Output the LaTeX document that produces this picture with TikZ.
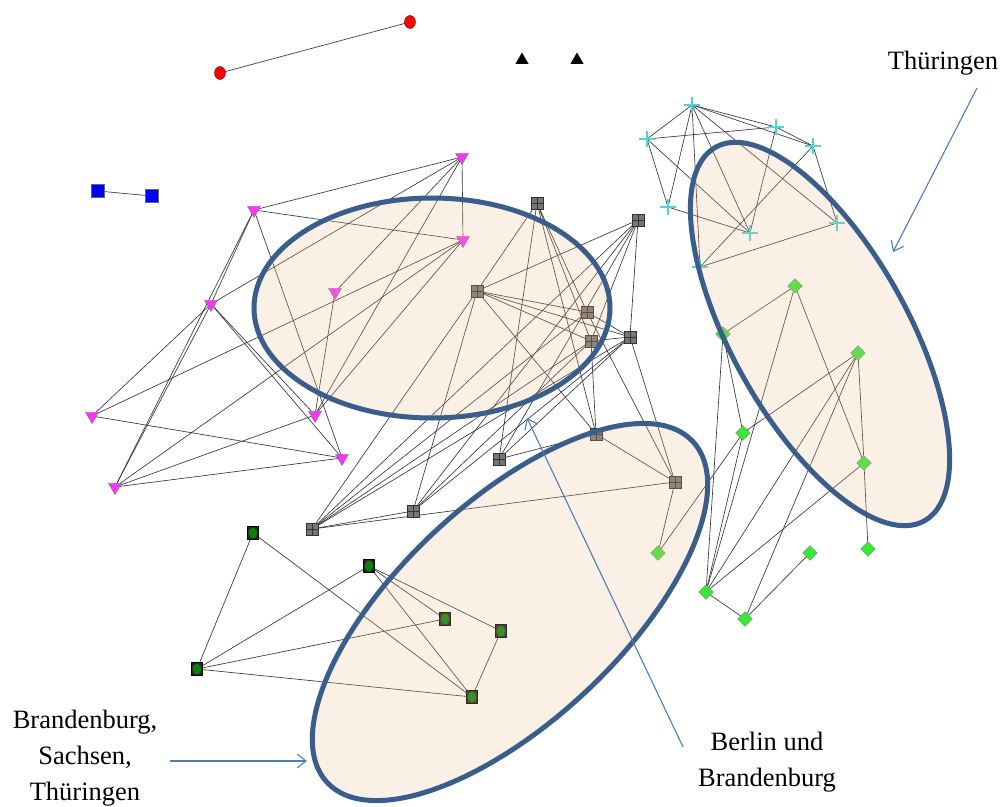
\documentclass[tikz,border=0pt]{standalone}
\usepackage{fontspec}
\setmainfont{Liberation Serif}
\usetikzlibrary{shapes.geometric,shapes.misc,arrows.meta}
\pgfdeclarelayer{bg}
\pgfdeclarelayer{fg}
\pgfsetlayers{bg,main,fg}
\definecolor{edgec}{RGB}{55,55,55}
\definecolor{ellc}{RGB}{58,94,140}
\definecolor{ellfill}{RGB}{241,187,141}
\definecolor{arrc}{RGB}{74,126,187}
\definecolor{magc}{RGB}{255,51,255}
\definecolor{grayc}{RGB}{118,118,118}
\definecolor{cyanc}{RGB}{80,210,215}
\definecolor{diac}{RGB}{55,232,55}
\definecolor{kgreen}{RGB}{10,130,10}
\tikzset{
  magnode/.style={regular polygon, regular polygon sides=3, shape border rotate=180,
    draw=black!55, line width=0.4pt, fill=magc, minimum size=15pt, inner sep=0pt},
  graynode/.style={rectangle, draw=black!80, line width=0.5pt, fill=grayc,
    minimum size=12pt, inner sep=0pt,
    path picture={\draw[black!80, line width=0.6pt]
      (path picture bounding box.north) -- (path picture bounding box.south)
      (path picture bounding box.west) -- (path picture bounding box.east);}},
  cyannode/.style={cross out, draw=cyanc, line width=1.2pt, minimum size=10pt,
    inner sep=0pt, rotate=45},
  dianode/.style={diamond, draw=black!50, line width=0.4pt, fill=diac,
    minimum size=15pt, inner sep=0pt},
  knode/.style={rectangle, draw=black, line width=0.9pt, fill=black!85,
    minimum width=11pt, minimum height=13pt, inner sep=0pt,
    path picture={\fill[kgreen] (path picture bounding box.center)
      ellipse [x radius=4.3pt, y radius=5.4pt];}},
  rednode/.style={ellipse, draw=red!45!black, line width=0.4pt, fill=red,
    minimum width=11pt, minimum height=13pt, inner sep=0pt},
  blknode/.style={regular polygon, regular polygon sides=3, fill=black,
    minimum size=15pt, inner sep=0pt},
  bluenode/.style={rectangle, draw=black!60, line width=0.4pt, fill=blue,
    minimum size=13pt, inner sep=0pt},
  edge/.style={draw=edgec, line width=0.65pt},
  ellshape/.style={draw=ellc, line width=5pt},
  ellfillst/.style={fill=ellfill, fill opacity=0.22},
  callout/.style={draw=arrc, line width=1.1pt, -{Straight Barb[length=9pt,width=14pt,line width=1.1pt]}},
  lbl/.style={font=\fontsize{26.5}{36}\selectfont, align=center, inner sep=0pt}
}
\begin{document}
\begin{tikzpicture}[x=1pt,y=-1pt]
\useasboundingbox (0,0) rectangle (1003,806);

% red
\node[rednode] (R1) at (220,73) {};
\node[rednode] (R2) at (410,22) {};
% black triangles
\node[blknode] (T1) at (522,60) {};
\node[blknode] (T2) at (577,60) {};
% blue
\node[bluenode] (B1) at (98,191) {};
\node[bluenode] (B2) at (152,196) {};
% magenta
\node[magnode] (M1) at (462,157) {};
\node[magnode] (M2) at (254,210) {};
\node[magnode] (M3) at (463,240) {};
\node[magnode] (M4) at (335,292) {};
\node[magnode] (M5) at (211,304) {};
\node[magnode] (M6) at (92,416) {};
\node[magnode] (M7) at (315,415) {};
\node[magnode] (M8) at (342,458) {};
\node[magnode] (M9) at (115,487) {};
% gray
\node[graynode] (G1) at (537,203) {};
\node[graynode] (G2) at (638,220) {};
\node[graynode] (G3) at (477,291) {};
\node[graynode] (G4) at (587,312) {};
\node[graynode] (G5) at (591,341) {};
\node[graynode] (G6) at (630,337) {};
\node[graynode] (G7) at (596,434) {};
\node[graynode] (G8) at (499,459) {};
\node[graynode] (G9) at (675,482) {};
\node[graynode] (G10) at (413,511) {};
\node[graynode] (G11) at (312,529) {};
% cyan
\node[cyannode] (C1) at (692,105) {};
\node[cyannode] (C2) at (647,139) {};
\node[cyannode] (C3) at (776,127) {};
\node[cyannode] (C4) at (813,146) {};
\node[cyannode] (C5) at (668,207) {};
\node[cyannode] (C6) at (750,233) {};
\node[cyannode] (C7) at (837,223) {};
\node[cyannode] (C8) at (700,267) {};
% diamonds
\node[dianode] (D1) at (795,286) {};
\node[dianode] (D2) at (723,334) {};
\node[dianode] (D3) at (858,353) {};
\node[dianode] (D4) at (743,433) {};
\node[dianode] (D5) at (864,463) {};
\node[dianode] (D6) at (658,553) {};
\node[dianode] (D7) at (810,553) {};
\node[dianode] (D8) at (868,549) {};
\node[dianode] (D9) at (706,592) {};
\node[dianode] (D10) at (745,619) {};
% dark green
\node[knode] (K1) at (253,533) {};
\node[knode] (K2) at (369,566) {};
\node[knode] (K3) at (445,619) {};
\node[knode] (K4) at (501,631) {};
\node[knode] (K5) at (197,669) {};
\node[knode] (K6) at (472,697) {};

\begin{pgfonlayer}{bg}
\fill[white] (0,0) rectangle (1003,806);
\foreach \a/\b in {R1/R2, B1/B2,
  M1/M2, M1/M3, M1/M4, M1/M5, M1/M7, M2/M3, M2/M5, M2/M9, M2/M8,
  M3/M6, M3/M7, M3/M9, M4/M7, M5/M6, M5/M7, M5/M8, M5/M9, M6/M8, M7/M9, M8/M9,
  G1/G3, G1/G4, G1/G5, G1/G7, G1/G8,
  G2/G3, G2/G5, G2/G6, G2/G8, G2/G10, G2/G11,
  G3/G4, G3/G5, G3/G6, G3/G7, G3/G10, G3/G11,
  G4/G6, G4/G9, G4/G11, G5/G6, G5/G7, G5/G10, G5/G11,
  G6/G9, G6/G8, G6/G10, G6/G11, G7/G8, G7/G9, G9/G11, G10/G11, G9/D6,
  C1/C2, C1/C3, C1/C4, C1/C5, C1/C6, C1/C7, C1/C8, C2/C3, C2/C5, C2/C6,
  C3/C4, C3/C6, C4/C7, C4/C8, C5/C6, C7/C8,
  D1/D2, D1/D5, D1/D9, D2/D4, D2/D9, D3/D4, D3/D5, D3/D9, D3/D10,
  D4/D6, D4/D9, D5/D8, D5/D9, D7/D10, D9/D10,
  K1/K5, K1/K6, K2/K3, K2/K4, K2/K5, K2/K6, K3/K5, K4/K6, K5/K6}
  \draw[edge] (\a.center) -- (\b.center);
\end{pgfonlayer}

\begin{pgfonlayer}{fg}
\fill[ellfillst] (432,308) ellipse [x radius=178pt, y radius=110pt];
\draw[ellshape] (432,308) ellipse [x radius=178pt, y radius=110pt];
\fill[ellfillst] (820,334) ellipse [x radius=214pt, y radius=88pt, rotate=-60.8];
\draw[ellshape] (820,334) ellipse [x radius=214pt, y radius=88pt, rotate=-60.8];
\fill[ellfillst] (510,612) ellipse [x radius=250pt, y radius=110pt, rotate=43];
\draw[ellshape] (510,612) ellipse [x radius=250pt, y radius=110pt, rotate=43];

\node[lbl] (LT) at (943,63) {Thüringen};
\node[lbl] (LB) at (767,762) {Berlin und\\Brandenburg};
\node[lbl] (LS) at (85,758) {Brandenburg,\\Sachsen,\\Thüringen};
\coordinate (aT1) at (977,88);
\coordinate (aT2) at (893,252);
\coordinate (aB1) at (683,747);
\coordinate (aB2) at (527,418);
\coordinate (aS1) at (170,761);
\coordinate (aS2) at (307,761);
\draw[callout] (aT1) -- (aT2);
\draw[callout] (aB1) -- (aB2);
\draw[callout] (aS1) -- (aS2);
\end{pgfonlayer}
\end{tikzpicture}
\end{document}
